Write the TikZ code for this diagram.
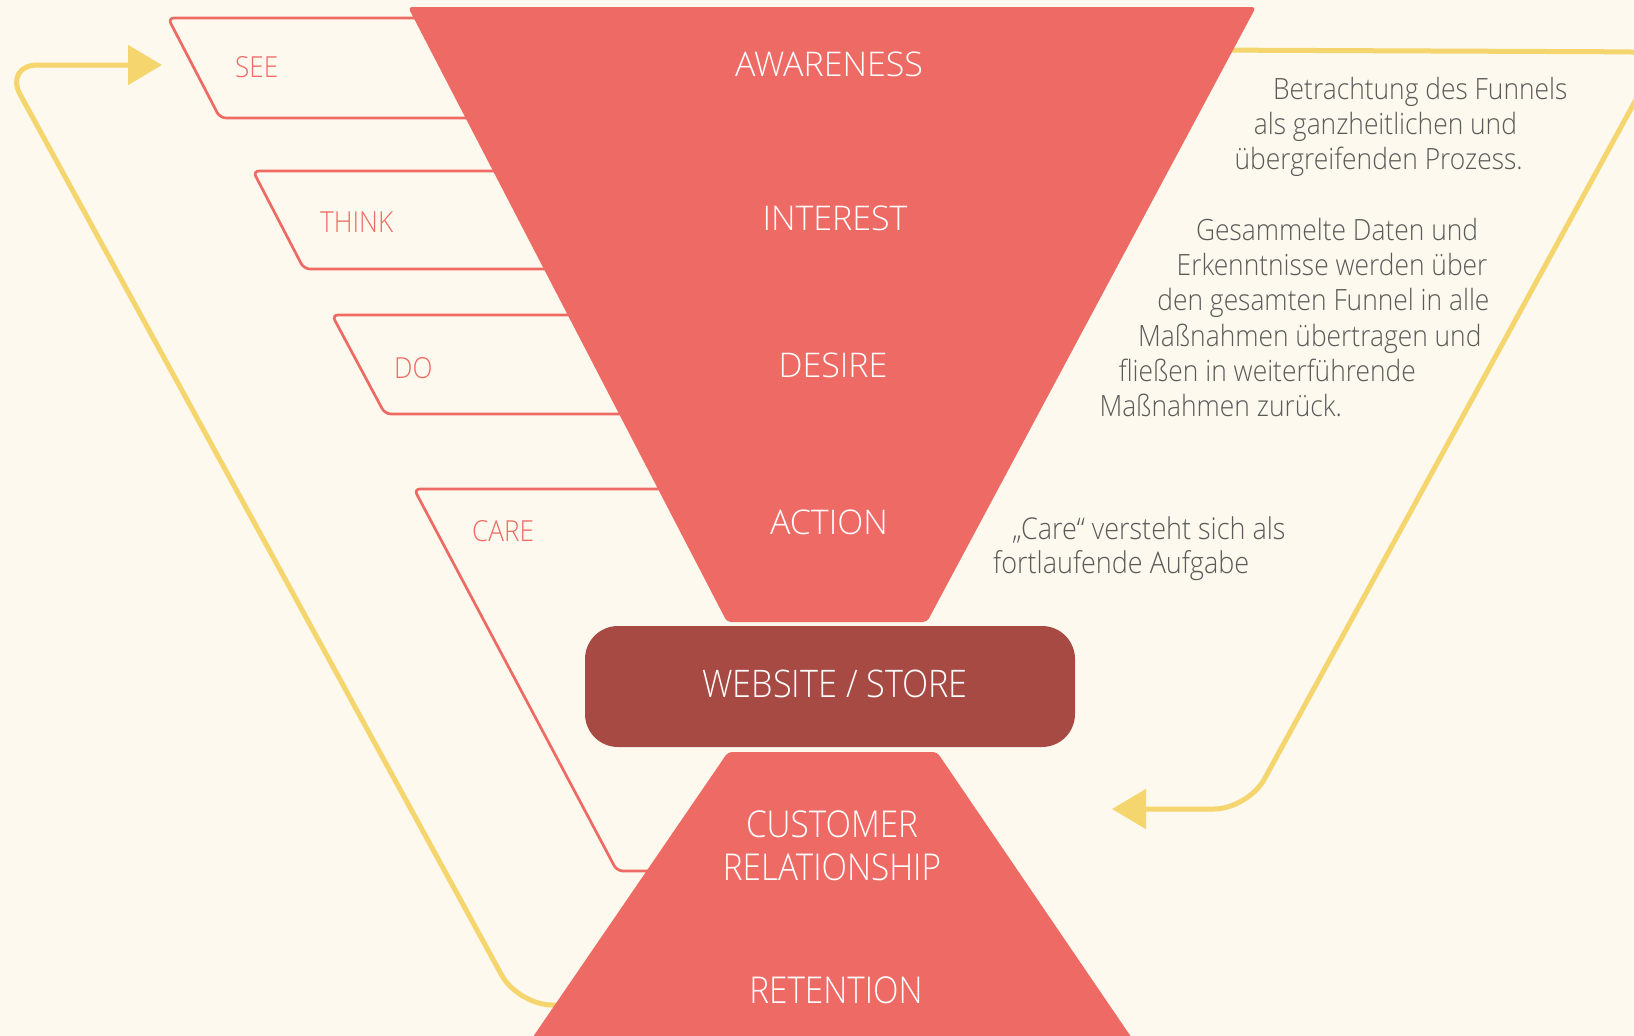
\documentclass[tikz,border=0pt]{standalone}
\usepackage{fontspec}
\setmainfont{Open Sans Light}
\newfontfamily\narrowfont{Open Sans Light}[FakeStretch=0.9]
\usetikzlibrary{arrows.meta}
\definecolor{bgcream}{RGB}{254,249,238}
\definecolor{coral}{RGB}{238,107,101}
\definecolor{brick}{RGB}{168,74,68}
\definecolor{sun}{RGB}{245,214,110}
\definecolor{slate}{RGB}{90,90,90}

\begin{document}
\begin{tikzpicture}[x=1pt,y=-1pt,
  stage/.style={text=white,font=\fontsize{34}{40}\selectfont,anchor=base,inner sep=0pt},
  side/.style={text=coral,font=\narrowfont\fontsize{29}{34}\selectfont,anchor=base west,inner sep=0pt},
  tab/.style={draw=coral,line width=2.7pt,rounded corners=6pt},
  loop/.style={draw=sun,line width=5pt,rounded corners=34pt,-{Triangle[length=34pt,width=39pt]}},
  note/.style={text=slate,font=\narrowfont\fontsize{29.3}{35}\selectfont,anchor=base west,inner sep=0pt}]
\useasboundingbox (0,0) rectangle (1634,1036);
\clip (0,0) rectangle (1634,1036);
\fill[bgcream] (0,0) rectangle (1634,1036);

% feedback loops
\coordinate (seeIn) at (162,65);
\coordinate (careOut) at (1112,809);
\draw[loop] (640,1005) -- (518,1005) -- (4,65) -- (seeIn);
\draw[loop] (1200,50) -- (1662,52) -- (1248,809) -- (careOut);

% tabs behind the funnel
\draw[tab] (700,18) -- (168,18) -- (220,118) -- (700,118);
\draw[tab] (700,171) -- (253,171) -- (304,269) -- (700,269);
\draw[tab] (700,315) -- (332,315) -- (385,414) -- (700,414);
\draw[tab] (700,489) -- (414,489) -- (617,871) -- (700,871);

% funnel
\fill[coral, rounded corners=4pt] (408,7) -- (1256,7) -- (927,622) -- (727,622) -- cycle;
\fill[coral, rounded corners=4pt] (728,752) -- (937,752) -- (1140,1050) -- (524,1050) -- cycle;
\node[fill=brick, rounded corners=33pt, minimum width=490pt, minimum height=121pt, inner sep=0pt] (store) at (830,686.5) {};

\node[stage] (awareness) at (829,76) {AWARENESS};
\node[stage] (interest) at (835,230) {INTEREST};
\node[stage] (desire) at (833,377) {DESIRE};
\node[stage] (action) at (829,534) {ACTION};
\node[stage, font=\narrowfont\fontsize{38}{44}\selectfont] (storetxt) at (835,697) {WEBSITE / STORE};
\node[stage, font=\narrowfont\fontsize{37}{43}\selectfont] (customer) at (832,837) {CUSTOMER};
\node[stage, font=\narrowfont\fontsize{37}{43}\selectfont] (relation) at (832,880) {RELATIONSHIP};
\node[stage, font=\narrowfont\fontsize{37}{43}\selectfont] (retention) at (836,1003) {RETENTION};

\node[side] (see) at (235,77) {SEE};
\node[side] (think) at (320,232) {THINK};
\node[side] (do) at (394,378) {DO};
\node[side] (care) at (472,541) {CARE};

% notes on the right
\foreach \k/\txt in {0/Betrachtung des Funnels, 1/als ganzheitlichen und, 2/übergreifenden Prozess.,
  4/Gesammelte Daten und, 5/Erkenntnisse werden über, 6/den gesamten Funnel in alle,
  7/Maßnahmen übertragen und, 8/fließen in weiterführende, 9/Maßnahmen zurück.}{
  \node[note] (note\k) at ({1273-19.3*\k},{99+35.3*\k}) {\txt};
}
\node[note, font=\narrowfont\fontsize{30}{34}\selectfont] (care1) at (1012,539) {„Care“ versteht sich als};
\node[note, font=\narrowfont\fontsize{30}{34}\selectfont] (care2) at (993,573) {fortlaufende Aufgabe};
\end{tikzpicture}
\end{document}
